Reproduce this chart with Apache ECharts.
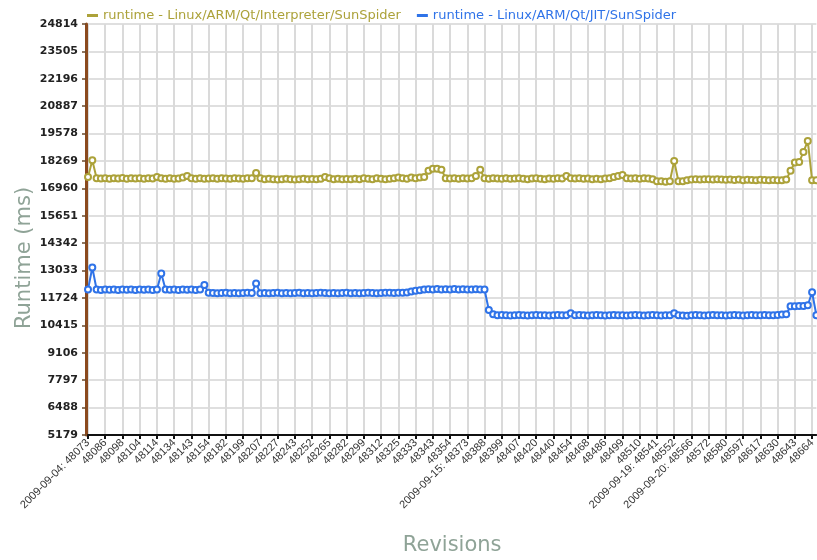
<!DOCTYPE html>
<html>
<head>
<meta charset="utf-8">
<title>runtime - Linux/ARM/Qt SunSpider</title>
<script src="https://cdn.jsdelivr.net/npm/echarts@6/dist/echarts.min.js"></script>
<style>
  html, body { margin: 0; padding: 0; background: #fff; }
  #chart { width: 817px; height: 560px; }
</style>
</head>
<body>
<div id="chart"></div>
<script>
// revision labels shown on the x axis (one every 4 points)
const revisionLabels = [
  '2009-09-04: 48073', '48086', '48098', '48104', '48114', '48134', '48143', '48154',
  '48182', '48199', '48207', '48227', '48243', '48252', '48265', '48282', '48299',
  '48312', '48325', '48333', '48343', '48354', '2009-09-15: 48373', '48388', '48399',
  '48407', '48420', '48440', '48454', '48468', '48486', '48499', '48510',
  '2009-09-19: 48541', '48552', '2009-09-20: 48566', '48572', '48580', '48597',
  '48617', '48630', '48643', '48664'
];
const pointsPerLabel = 4;

// runtime (ms)
const interpreterRuntime = [
  17500, 18300, 17450, 17430, 17450, 17420, 17450, 17430, 17460, 17420,
  17450, 17430, 17450, 17420, 17450, 17430, 17500, 17450, 17420, 17450,
  17420, 17430, 17480, 17550, 17450, 17420, 17440, 17420, 17430, 17450,
  17420, 17440, 17430, 17420, 17450, 17430, 17420, 17440, 17450, 17700,
  17450, 17400, 17420, 17400, 17380, 17400, 17420, 17400, 17380, 17400,
  17420, 17400, 17410, 17400, 17420, 17500, 17450, 17400, 17420, 17400,
  17410, 17400, 17420, 17400, 17450, 17420, 17400, 17450, 17420, 17400,
  17420, 17450, 17480, 17450, 17420, 17480, 17450, 17480, 17500, 17800,
  17900, 17900, 17850, 17450, 17430, 17450, 17420, 17450, 17430, 17450,
  17550, 17850, 17450, 17420, 17450, 17430, 17420, 17450, 17420, 17430,
  17450, 17420, 17400, 17430, 17450, 17420, 17400, 17430, 17420, 17450,
  17430, 17550, 17450, 17430, 17450, 17420, 17430, 17400, 17420, 17400,
  17430, 17450, 17500, 17550, 17600, 17450, 17430, 17450, 17420, 17450,
  17430, 17400, 17300, 17300, 17280, 17300, 18269, 17300, 17300, 17350,
  17380, 17400, 17380, 17400, 17400, 17380, 17400, 17380, 17370, 17380,
  17360, 17380, 17350, 17370, 17360, 17350, 17370, 17360, 17350, 17360,
  17350, 17350, 17380, 17800, 18200, 18220, 18700, 19230, 17350, 17350
];
const jitRuntime = [
  12130, 13180, 12130, 12110, 12130, 12120, 12130, 12110, 12130, 12120,
  12130, 12110, 12130, 12120, 12130, 12110, 12130, 12900, 12130, 12120,
  12130, 12110, 12130, 12120, 12130, 12110, 12130, 12350, 11980, 11960,
  11950, 11960, 11970, 11950, 11960, 11950, 11960, 11970, 11960, 12420,
  11950, 11960, 11950, 11960, 11970, 11950, 11960, 11950, 11960, 11970,
  11950, 11960, 11950, 11960, 11970, 11960, 11950, 11960, 11950, 11960,
  11970, 11950, 11960, 11950, 11960, 11970, 11960, 11950, 11960, 11970,
  11980, 11960, 11970, 11980, 11990, 12030, 12070, 12100, 12130, 12140,
  12130, 12150, 12130, 12140, 12130, 12150, 12130, 12140, 12130, 12130,
  12140, 12130, 12130, 11150, 10950, 10900, 10910, 10900, 10890, 10900,
  10910, 10900, 10890, 10900, 10910, 10900, 10900, 10890, 10900, 10910,
  10900, 10900, 11000, 10900, 10910, 10900, 10890, 10900, 10910, 10900,
  10890, 10900, 10910, 10900, 10900, 10890, 10900, 10910, 10900, 10890,
  10900, 10910, 10900, 10890, 10900, 10900, 11000, 10900, 10890, 10880,
  10900, 10910, 10900, 10890, 10900, 10910, 10900, 10900, 10890, 10900,
  10910, 10900, 10890, 10900, 10910, 10900, 10900, 10910, 10900, 10900,
  10910, 10930, 10950, 11330, 11330, 11340, 11340, 11380, 12000, 10900
];

// y axis scale
const yMin = 5179;
const yMax = 24814;
const yStep = 1309;

const interpreterColor = '#aca23a';
const jitColor = '#2f73e8';
const titleColor = '#8fa397';

const categories = interpreterRuntime.map((v, i) =>
  i % pointsPerLabel === 0 ? revisionLabels[i / pointsPerLabel] : 'p' + i
);

const myChart = echarts.init(document.getElementById('chart'));

const lineSeries = (name, data, color) => ({
  name: name,
  type: 'line',
  data: data,
  symbol: 'emptyCircle',
  symbolSize: 6,
  showAllSymbol: true,
  animation: false,
  lineStyle: { color: color, width: 2 },
  itemStyle: { color: color, borderWidth: 1.2 }
});

const option = {
  animation: false,
  textStyle: { fontFamily: 'DejaVu Sans' },
  legend: {
    left: 82,
    top: 4,
    icon: 'rect',
    itemWidth: 11,
    itemHeight: 3,
    itemGap: 16,
    textStyle: { fontSize: 13, fontFamily: 'DejaVu Sans' },
    data: [
      { name: 'runtime - Linux/ARM/Qt/Interpreter/SunSpider', textStyle: { color: interpreterColor } },
      { name: 'runtime - Linux/ARM/Qt/JIT/SunSpider', textStyle: { color: jitColor } }
    ]
  },
  grid: {
    left: 88,
    top: 24,
    right: 0.6,
    bottom: 125,
    containLabel: false,
    outerBoundsMode: 'none'
  },
  xAxis: {
    type: 'category',
    data: categories,
    boundaryGap: false,
    name: 'Revisions',
    nameLocation: 'middle',
    nameGap: 100,
    nameTextStyle: { fontSize: 21, color: titleColor, fontFamily: 'DejaVu Sans' },
    axisLine: { lineStyle: { color: '#111', width: 2 } },
    axisTick: { interval: pointsPerLabel - 1, length: 4, lineStyle: { color: '#111', width: 2 } },
    axisLabel: {
      interval: pointsPerLabel - 1,
      rotate: 45,
      margin: 6,
      fontSize: 11,
      fontFamily: 'Liberation Sans',
      color: '#333'
    },
    splitLine: {
      show: true,
      interval: pointsPerLabel - 1,
      lineStyle: { color: '#dadada', width: 2 }
    }
  },
  yAxis: {
    type: 'value',
    min: yMin,
    max: yMax,
    interval: yStep,
    offset: 2,
    axisLine: { show: true, lineStyle: { color: '#8b4a1e', width: 3 } },
    axisTick: { show: true, length: 4, lineStyle: { color: '#6b4a2b', width: 1.5 } },
    axisLabel: {
      fontSize: 11,
      fontWeight: 'bold',
      color: '#222',
      margin: 8,
      fontFamily: 'DejaVu Sans',
      formatter: (v) => String(v)
    },
    splitLine: { lineStyle: { color: '#d4d4d4', width: 1.5 } }
  },
  graphic: [
    {
      type: 'text',
      x: 25,
      y: 258,
      rotation: Math.PI / 2,
      style: {
        text: 'Runtime (ms)',
        fill: titleColor,
        font: '21px "DejaVu Sans"',
        align: 'center',
        verticalAlign: 'middle'
      }
    }
  ],
  series: [
    lineSeries('runtime - Linux/ARM/Qt/Interpreter/SunSpider', interpreterRuntime, interpreterColor),
    lineSeries('runtime - Linux/ARM/Qt/JIT/SunSpider', jitRuntime, jitColor)
  ]
};

myChart.setOption(option);
</script>
</body>
</html>
